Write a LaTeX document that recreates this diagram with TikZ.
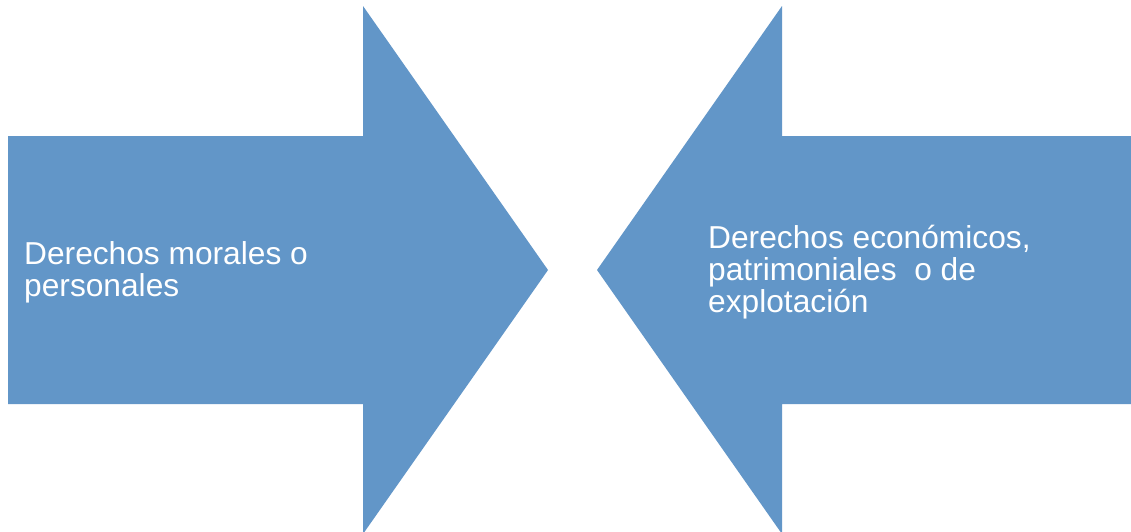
\documentclass[tikz,border=0pt]{standalone}
\usepackage{fontspec}
\setmainfont{Liberation Sans}
\definecolor{arrowblue}{RGB}{98,150,200}
\begin{document}
\begin{tikzpicture}[x=1pt,y=-1pt,
  arrowshape/.style={fill=arrowblue,draw=none},
  arrowtext/.style={text=white,font=\fontsize{31.7}{32}\selectfont,align=left,anchor=west,inner sep=0pt}]
\useasboundingbox (0,0) rectangle (1131,531);
\fill[white] (0,0) rectangle (1131,531);
\path[arrowshape] (8,136) -- (363,136) -- (363,6) -- (548,270) -- (363,534) -- (363,404) -- (8,404) -- cycle;
\path[arrowshape] (1131,136) -- (782,136) -- (782,6) -- (597,270) -- (782,534) -- (782,404) -- (1131,404) -- cycle;
\node[arrowtext] (left) at (24,272.5) {Derechos morales o\\personales};
\node[arrowtext] (right) at (708,272.5) {Derechos económicos,\\patrimoniales\ \ o de\\explotación};
\end{tikzpicture}
\end{document}
